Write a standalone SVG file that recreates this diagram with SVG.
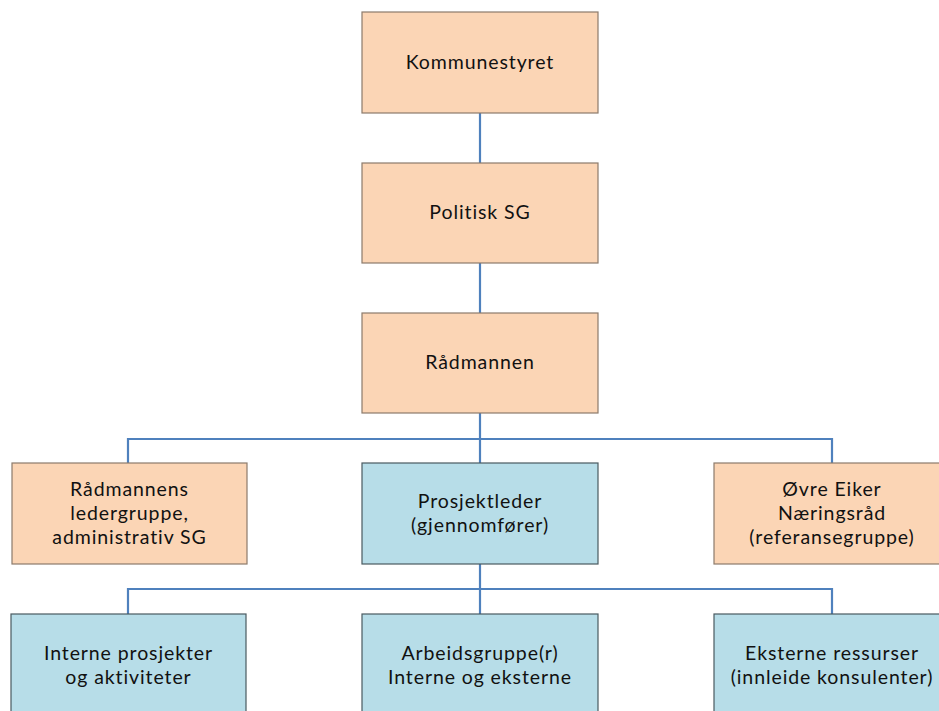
<svg xmlns="http://www.w3.org/2000/svg" width="939" height="711" viewBox="0 0 939 711">
<style>
.peach{fill:#FBD5B5;stroke:#8C7B6C;stroke-width:1.2}
.blue{fill:#B7DDE8;stroke:#4A5A60;stroke-width:1.2}
.t{font-family:Lato,"Open Sans",sans-serif;font-size:19.5px;letter-spacing:0.9px;fill:#111;text-anchor:middle}
.c{fill:none;stroke:#4F81BD;stroke-width:2.2}
</style>
<rect width="939" height="711" fill="#fff"/>
<g id="connectors">
<line class="c" x1="480" y1="113" x2="480" y2="163"/>
<line class="c" x1="480" y1="263" x2="480" y2="313"/>
<line class="c" x1="480" y1="413" x2="480" y2="463"/>
<polyline class="c" points="128,463 128,439 832,439 832,463"/>
<line class="c" x1="480" y1="564" x2="480" y2="614"/>
<polyline class="c" points="128,614 128,589 832,589 832,614"/>
</g>
<g id="kommunestyret">
<rect class="peach" x="362" y="12" width="236" height="101"/>
<text class="t" x="480" y="69">Kommunestyret</text>
</g>
<g id="politisk-sg">
<rect class="peach" x="362" y="163" width="236" height="100"/>
<text class="t" x="480" y="219">Politisk SG</text>
</g>
<g id="radmannen">
<rect class="peach" x="362" y="313" width="236" height="100"/>
<text class="t" x="480" y="369">Rådmannen</text>
</g>
<g id="radmannens-ledergruppe">
<rect class="peach" x="12" y="463" width="235" height="101"/>
<text class="t" x="129.5" y="496">Rådmannens</text>
<text class="t" x="129.5" y="520">ledergruppe,</text>
<text class="t" x="129.5" y="544">administrativ SG</text>
</g>
<g id="prosjektleder">
<rect class="blue" x="362" y="463" width="236" height="101"/>
<text class="t" x="480" y="508">Prosjektleder</text>
<text class="t" x="480" y="532">(gjennomfører)</text>
</g>
<g id="ovre-eiker">
<rect class="peach" x="714" y="463" width="236" height="101"/>
<text class="t" x="832" y="496">Øvre Eiker</text>
<text class="t" x="832" y="520">Næringsråd</text>
<text class="t" x="832" y="544">(referansegruppe)</text>
</g>
<g id="interne-prosjekter">
<rect class="blue" x="11" y="614" width="235" height="101"/>
<text class="t" x="128.5" y="660">Interne prosjekter</text>
<text class="t" x="128.5" y="684">og aktiviteter</text>
</g>
<g id="arbeidsgrupper">
<rect class="blue" x="362" y="614" width="236" height="101"/>
<text class="t" x="480" y="660">Arbeidsgruppe(r)</text>
<text class="t" x="480" y="684">Interne og eksterne</text>
</g>
<g id="eksterne-ressurser">
<rect class="blue" x="714" y="614" width="236" height="101"/>
<text class="t" x="832" y="660">Eksterne ressurser</text>
<text class="t" x="832" y="684">(innleide konsulenter)</text>
</g>
</svg>
